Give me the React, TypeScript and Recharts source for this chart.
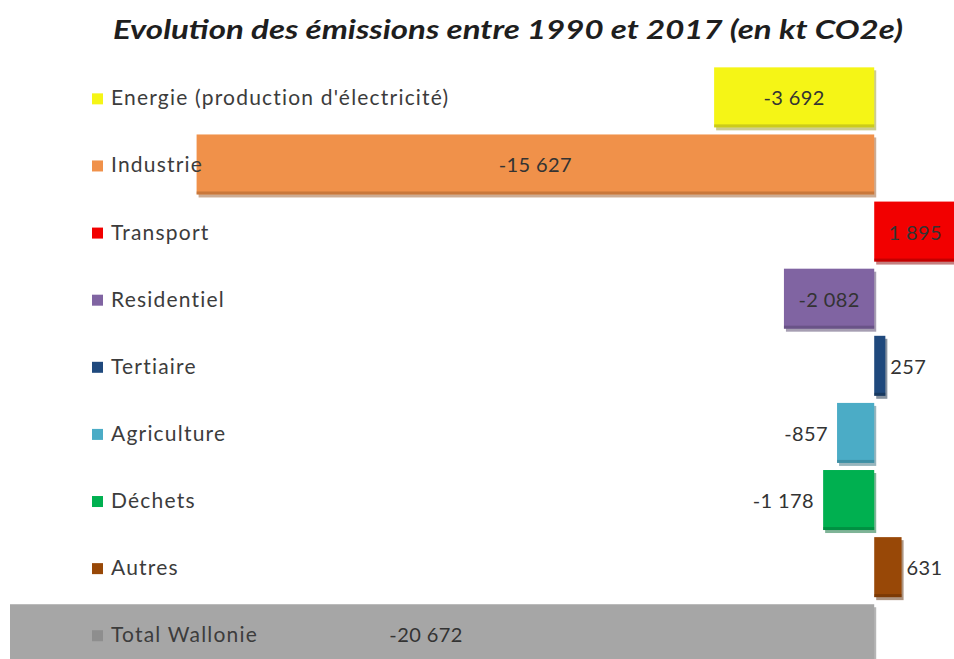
import React from 'react';
import { BarChart, Bar, XAxis, YAxis, Cell, LabelList } from 'recharts';

const categories = [
  "Energie (production d'électricité)",
  'Industrie',
  'Transport',
  'Residentiel',
  'Tertiaire',
  'Agriculture',
  'Déchets',
  'Autres',
  'Total Wallonie',
];
const values = [-3692, -15627, 1895, -2082, 257, -857, -1178, 631, -20672];
const colors = ['#F5F516', '#F0914A', '#F20000', '#8064A2', '#1F497D', '#4BACC6', '#00B050', '#984807', '#A6A6A6'];
const shadows = ['#9A9A20', '#9A5A2A', '#8A0000', '#4E3D66', '#10263F', '#2F6C7C', '#006A30', '#5A2A04', '#6E6E6E'];

const data = categories.map((name, i) => ({ name, value: values[i] }));

const fmt = (v: number) =>
  (v < 0 ? '-' : '') + Math.abs(v).toString().replace(/\B(?=(\d{3})+(?!\d))/g, ' ');

const FONT = "Lato, 'Open Sans', sans-serif";

const Shape3D = (props: any) => {
  const { x, y, width, height, index } = props;
  const left = Math.min(x, x + width);
  const w = Math.abs(width);
  return (
    <g>
      <rect x={left + 2} y={y + 3} width={w} height={height} fill={shadows[index]} opacity={0.5} />
      <rect x={left} y={y} width={w} height={height} fill={colors[index]} />
      <rect x={left} y={y + height - 3} width={w} height={3} fill={shadows[index]} opacity={0.45} />
    </g>
  );
};

// category name + small coloured square, drawn at the left of each row
const CategoryLabel = (props: any) => {
  const { y, height, value, index } = props;
  const cy = y + height / 2;
  return (
    <g>
      <rect x={92} y={cy - 4} width={11} height={11} fill={index === 8 ? '#8E8E8E' : colors[index]} />
      <text x={111} y={cy} dy={8} fontSize={21} letterSpacing={1.2} fill="#3C3C3C" fontFamily={FONT}>
        {value}
      </text>
    </g>
  );
};

const ValueLabel = (props: any) => {
  const { x, y, width, height, value } = props;
  const left = Math.min(x, x + width);
  const w = Math.abs(width);
  const cy = y + height / 2;
  const inside = w > 80;
  let tx = left + w / 2;
  let anchor: 'middle' | 'start' | 'end' = 'middle';
  if (!inside) {
    if (value < 0) {
      tx = left - 9;
      anchor = 'end';
    } else {
      tx = left + w + 5;
      anchor = 'start';
    }
  }
  return (
    <text
      x={tx}
      y={cy}
      dy={8}
      textAnchor={anchor}
      fontSize={20}
      letterSpacing={0.4}
      fill="#333"
      fontFamily={FONT}
    >
      {fmt(value)}
    </text>
  );
};

export default function App() {
  return (
    <div
      style={{
        position: 'absolute',
        left: 0,
        top: 0,
        width: 954,
        height: 659,
        overflow: 'hidden',
        background: '#fff',
        fontFamily: FONT,
      }}
    >
      <svg width={954} height={60} style={{ position: 'absolute', left: 0, top: 0 }}>
        <text
          x={113}
          y={39}
          textLength={790}
          lengthAdjust="spacingAndGlyphs"
          fontSize={26}
          fontWeight={700}
          fontStyle="italic"
          fill="#1E1E1E"
          fontFamily={FONT}
        >
          Evolution des émissions entre 1990 et 2017 (en kt CO2e)
        </text>
      </svg>
      <div style={{ position: 'absolute', left: 0, top: 0 }}>
        <BarChart
          width={954}
          height={680}
          data={data}
          layout="vertical"
          margin={{ top: 64, right: 0, bottom: 12, left: 10 }}
          barCategoryGap="5%"
        >
          <XAxis type="number" domain={[-19930, 1840]} allowDataOverflow hide />
          <YAxis type="category" dataKey="name" hide />
          <Bar dataKey="value" isAnimationActive={false} shape={<Shape3D />}>
            {data.map((d, i) => (
              <Cell key={`c-${i}`} fill={colors[i]} />
            ))}
            <LabelList dataKey="name" content={<CategoryLabel />} />
            <LabelList dataKey="value" content={<ValueLabel />} />
          </Bar>
        </BarChart>
      </div>
    </div>
  );
}
